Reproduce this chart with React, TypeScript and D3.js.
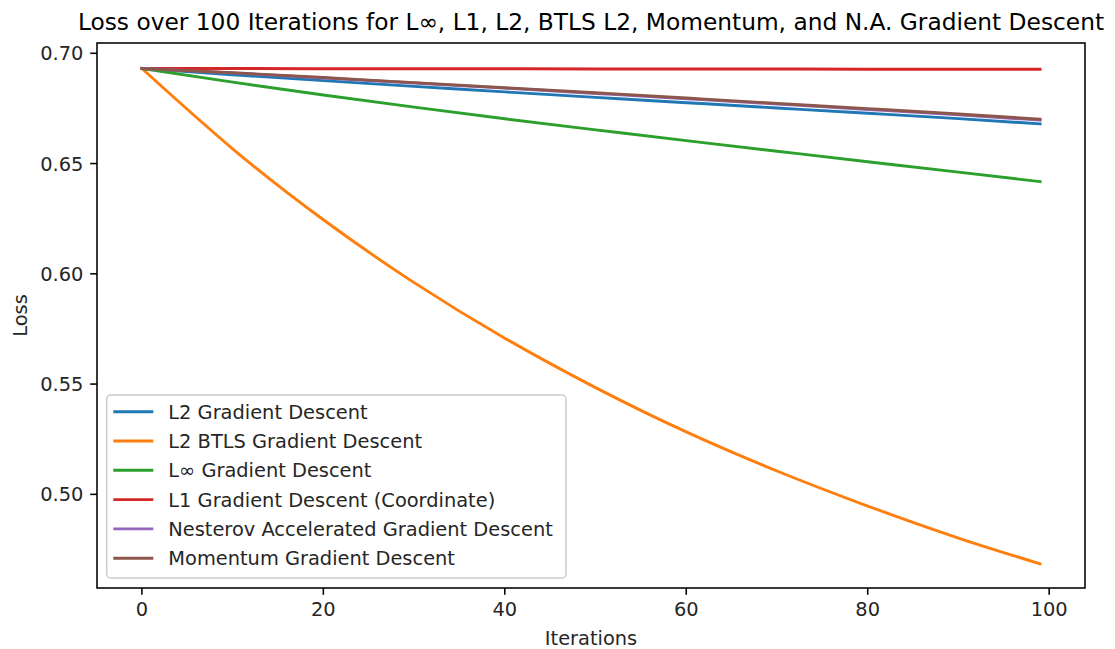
import React from "react";
import * as d3 from "d3";

const iterations = [0, 10, 20, 30, 40, 50, 60, 70, 80, 90, 99];

const l2Loss = [0.6931, 0.6903, 0.6876, 0.685, 0.6825, 0.68, 0.6776, 0.6752, 0.6728, 0.6704, 0.668];
const btlsLoss = [0.6931, 0.6567, 0.6245, 0.596, 0.5708, 0.5484, 0.5283, 0.5106, 0.4947, 0.4802, 0.4685];
const linfLoss = [0.6931, 0.6869, 0.6811, 0.6756, 0.6703, 0.6653, 0.6604, 0.6556, 0.6508, 0.6461, 0.6418];
const l1Loss = [0.6931, 0.6931, 0.693, 0.693, 0.693, 0.6929, 0.6929, 0.6929, 0.6928, 0.6928, 0.6928];
const nesterovLoss = [0.6931, 0.6911, 0.6888, 0.6865, 0.6842, 0.6818, 0.6794, 0.677, 0.6745, 0.6721, 0.6697];
const momentumLoss = [0.6931, 0.6912, 0.689, 0.6867, 0.6844, 0.6821, 0.6797, 0.6773, 0.6749, 0.6725, 0.6701];

const seriesNames = [
  "L2 Gradient Descent",
  "L2 BTLS Gradient Descent",
  "L∞ Gradient Descent",
  "L1 Gradient Descent (Coordinate)",
  "Nesterov Accelerated Gradient Descent",
  "Momentum Gradient Descent",
];
const seriesValues = [l2Loss, btlsLoss, linfLoss, l1Loss, nesterovLoss, momentumLoss];
const seriesColors = ["#1f77b4", "#ff7f0e", "#2ca02c", "#d62728", "#9467bd", "#8c564b"];

const xTicks = [0, 20, 40, 60, 80, 100];
const yTicks = [0.5, 0.55, 0.6, 0.65, 0.7];

const W = 1115;
const H = 649;
const margin = { left: 97, right: 30, top: 43, bottom: 61 };
const font = "DejaVu Sans, sans-serif";
const fs = 19.4;
const tickLen = 6.8;

const App = () => {
  const x = d3
    .scaleLinear()
    .domain([-4.95, 103.95])
    .range([margin.left, W - margin.right]);
  const y = d3
    .scaleLinear()
    .domain([0.45753, 0.70467])
    .range([H - margin.bottom, margin.top]);

  const line = d3
    .line<[number, number]>()
    .x(d => x(d[0]))
    .y(d => y(d[1]))
    .curve(d3.curveNatural);

  const bottom = H - margin.bottom;
  const legend = { x: 106.7, y: 395, w: 459.3, h: 183, row: 29.3 };

  return (
    <svg
      width={W}
      height={H}
      style={{ position: "fixed", left: 0, top: 0, background: "#fff" }}
      fontFamily={font}
    >
      <rect width={W} height={H} fill="#fff" />
      <defs>
        <clipPath id="plot">
          <rect x={margin.left} y={margin.top} width={W - margin.left - margin.right} height={bottom - margin.top} />
        </clipPath>
      </defs>
      <g clipPath="url(#plot)">
        {seriesValues.map((vals, i) => (
          <path
            key={i}
            d={line(iterations.map((it, j) => [it, vals[j]] as [number, number])) || ""}
            fill="none"
            stroke={seriesColors[i]}
            strokeWidth={2.9}
            strokeLinecap="square"
          />
        ))}
      </g>

      {/* axes frame */}
      <rect
        x={margin.left}
        y={margin.top}
        width={W - margin.left - margin.right}
        height={bottom - margin.top}
        fill="none"
        stroke="#000"
        strokeWidth={1.55}
      />

      {/* x ticks */}
      {xTicks.map(t => (
        <g key={t} transform={`translate(${x(t)},${bottom})`}>
          <line y2={tickLen} stroke="#000" strokeWidth={1.55} />
          <text y={tickLen + 6.8 + 14.6} textAnchor="middle" fontSize={fs} fill="#262626">
            {t}
          </text>
        </g>
      ))}
      {/* y ticks */}
      {yTicks.map(t => (
        <g key={t} transform={`translate(${margin.left},${y(t)})`}>
          <line x2={-tickLen} stroke="#000" strokeWidth={1.55} />
          <text x={-tickLen - 6.8} dy="0.36em" textAnchor="end" fontSize={fs} fill="#262626">
            {d3.format(".2f")(t)}
          </text>
        </g>
      ))}

      <text x={(margin.left + W - margin.right) / 2} y={645} textAnchor="middle" fontSize={fs} fill="#262626">
        Iterations
      </text>
      <text
        transform={`translate(27,${(margin.top + bottom) / 2}) rotate(-90)`}
        textAnchor="middle"
        fontSize={fs}
        fill="#262626"
      >
        Loss
      </text>
      <text x={(margin.left + W - margin.right) / 2} y={30} textAnchor="middle" fontSize={23.3} fill="#000">
        Loss over 100 Iterations for L∞, L1, L2, BTLS L2, Momentum, and N.A. Gradient Descent
      </text>

      {/* legend */}
      <rect
        x={legend.x}
        y={legend.y}
        width={legend.w}
        height={legend.h}
        rx={4}
        fill="#fff"
        fillOpacity={0.8}
        stroke="#cccccc"
        strokeWidth={1.5}
      />
      {seriesNames.map((name, i) => {
        const cy = legend.y + 16.7 + i * legend.row;
        return (
          <g key={name}>
            <line x1={113.3} x2={153.3} y1={cy} y2={cy} stroke={seriesColors[i]} strokeWidth={2.9} />
            <text x={168.3} y={cy} dy="0.36em" fontSize={fs} fill="#262626">
              {name}
            </text>
          </g>
        );
      })}
    </svg>
  );
};

export default App;
